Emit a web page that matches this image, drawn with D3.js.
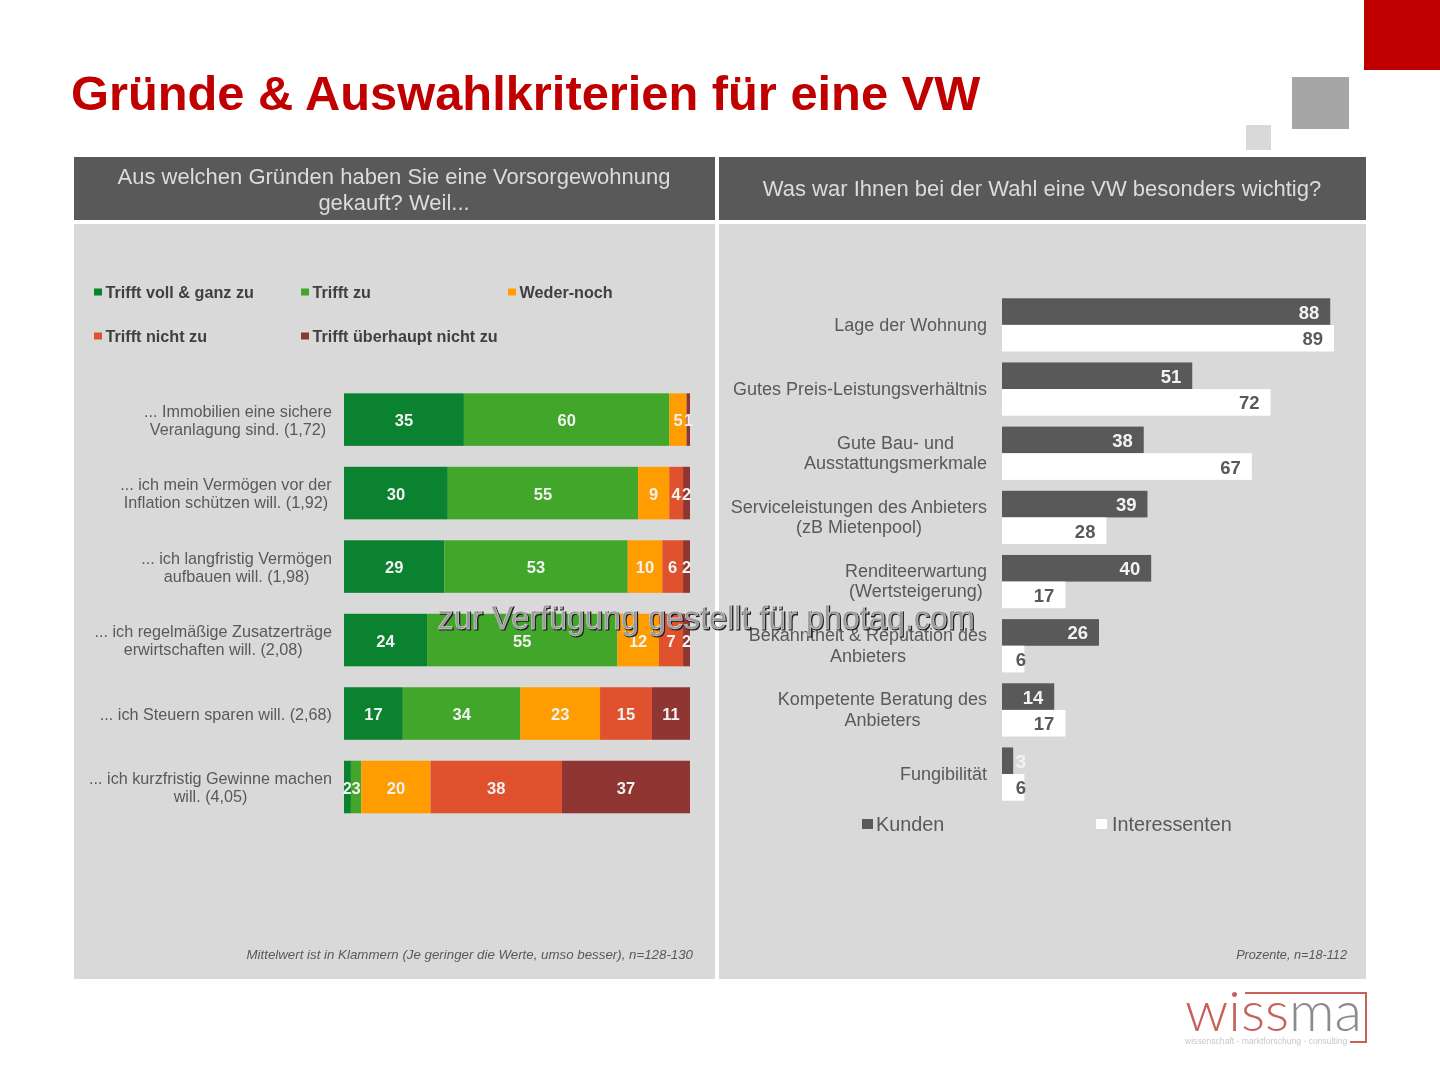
<!DOCTYPE html>
<html>
<head>
<meta charset="utf-8">
<script src="https://d3js.org/d3.v7.min.js"></script>
<style>
  html, body { margin: 0; padding: 0; background: #fff; }
  svg { display: block; filter: blur(0.5px); }
  text { font-family: "Liberation Sans", Arial, sans-serif; }
</style>
</head>
<body>
<svg></svg>
<script>
// left chart data
const leftCategories = [
  ['... Immobilien eine sichere', 'Veranlagung sind. (1,72)'],
  ['... ich mein Vermögen vor der', 'Inflation schützen will. (1,92)'],
  ['... ich langfristig Vermögen', 'aufbauen will. (1,98)'],
  ['... ich regelmäßige Zusatzerträge', 'erwirtschaften will. (2,08)'],
  ['... ich Steuern sparen will. (2,68)'],
  ['... ich kurzfristig Gewinne machen', 'will. (4,05)']
]
const leftSeries = ['Trifft voll & ganz zu', 'Trifft zu', 'Weder-noch', 'Trifft nicht zu', 'Trifft überhaupt nicht zu']
const leftColors = ['#0b8230', '#41a62a', '#ff9c00', '#e0522e', '#8f3532']
const voll = [35, 30, 29, 24, 17, 2]
const trifft = [60, 55, 53, 55, 34, 3]
const weder = [5, 9, 10, 12, 23, 20]
const nicht = [0, 4, 6, 7, 15, 38]
const ueberhaupt = [1, 2, 2, 2, 11, 37]

// right chart data
const rightCategories = [
  ['Lage der Wohnung'],
  ['Gutes Preis-Leistungsverhältnis'],
  ['Gute Bau- und', 'Ausstattungsmerkmale'],
  ['Serviceleistungen des Anbieters', '(zB Mietenpool)'],
  ['Renditeerwartung', '(Wertsteigerung)'],
  ['Bekanntheit & Reputation des', 'Anbieters'],
  ['Kompetente Beratung des', 'Anbieters'],
  ['Fungibilität']
]
const kunden = [88, 51, 38, 39, 40, 26, 14, 3]
const interessenten = [89, 72, 67, 28, 17, 6, 17, 6]

let width = 1440
let height = 1080

let svg = d3.select('svg').attr('width', width).attr('height', height)

// slide background pieces
let drawSlide = () => {
  let boxes = [
    [1364, 0, 76, 70, '#c00000'],
    [1292, 77, 57, 52, '#a6a6a6'],
    [1246, 125, 25, 25, '#d9d9d9'],
    [74, 157, 641, 63, '#595959'],
    [719, 157, 647, 63, '#595959'],
    [74, 224, 641, 755, '#d9d9d9'],
    [719, 224, 647, 755, '#d9d9d9']
  ]
  svg.selectAll('rect.box')
    .data(boxes)
    .enter()
    .append('rect')
    .attr('class', 'box')
    .attr('x', d => d[0])
    .attr('y', d => d[1])
    .attr('width', d => d[2])
    .attr('height', d => d[3])
    .attr('fill', d => d[4])

  svg.append('text')
    .attr('x', 71).attr('y', 110)
    .attr('font-size', 48.8).attr('font-weight', 'bold')
    .attr('fill', '#c00000')
    .text('Gründe & Auswahlkriterien für eine VW')

  let head = [
    [394, 184, 'Aus welchen Gründen haben Sie eine Vorsorgewohnung'],
    [394, 210, 'gekauft? Weil...'],
    [1042, 196, 'Was war Ihnen bei der Wahl eine VW besonders wichtig?']
  ]
  svg.selectAll('text.head')
    .data(head)
    .enter()
    .append('text')
    .attr('class', 'head')
    .attr('x', d => d[0])
    .attr('y', d => d[1])
    .attr('text-anchor', 'middle')
    .attr('font-size', 22)
    .attr('fill', '#dcdcdc')
    .text(d => d[2])

  svg.append('text')
    .attr('x', 693).attr('y', 959)
    .attr('text-anchor', 'end')
    .attr('font-size', 13.3).attr('font-style', 'italic')
    .attr('fill', '#595959')
    .text('Mittelwert ist in Klammern (Je geringer die Werte, umso besser), n=128-130')
  svg.append('text')
    .attr('x', 1347).attr('y', 959)
    .attr('text-anchor', 'end')
    .attr('font-size', 12.7).attr('font-style', 'italic')
    .attr('fill', '#595959')
    .text('Prozente, n=18-112')
}

// multi line category labels, centred on their widest line like the slide does
let drawLabels = (g, cats, yPos, rightX, size, lineH) => {
  cats.forEach((lines, i) => {
    let t = g.append('text')
      .attr('font-size', size)
      .attr('fill', '#595959')
      .attr('text-anchor', 'middle')
    lines.forEach((l, j) => {
      t.append('tspan')
        .attr('x', 0)
        .attr('y', yPos(i) + (j - (lines.length - 1) / 2) * lineH + size * 0.35)
        .text(l)
    })
    let w = t.node().getBBox().width
    t.attr('transform', 'translate(' + (rightX - w / 2) + ',0)')
  })
}

let drawLeft = () => {
  let rows = leftCategories.map((c, i) => ({
    cat: i,
    s0: voll[i], s1: trifft[i], s2: weder[i], s3: nicht[i], s4: ueberhaupt[i]
  }))
  let keys = ['s0', 's1', 's2', 's3', 's4']
  let stack = d3.stack().keys(keys).offset(d3.stackOffsetExpand)(rows)

  let xScale = d3.scaleLinear().domain([0, 1]).range([344, 690])
  let yScale = d3.scaleBand()
    .domain(d3.range(leftCategories.length))
    .range([382.3, 824.3])
    .paddingInner(0.285)
    .paddingOuter(0.15)

  let g = svg.append('g')
  let groups = g.selectAll('g.layer')
    .data(stack)
    .enter()
    .append('g')
    .attr('class', 'layer')

  groups.selectAll('rect')
    .data((d, i) => d.map(p => ({ p: p, k: i })))
    .enter()
    .append('rect')
    .attr('x', d => xScale(d.p[0]))
    .attr('y', d => yScale(d.p.data.cat))
    .attr('width', d => xScale(d.p[1]) - xScale(d.p[0]))
    .attr('height', yScale.bandwidth())
    .attr('fill', d => leftColors[d.k])

  // bar values, the 1 in the first row is only hinted in the reference
  groups.selectAll('text')
    .data((d, i) => d.map(p => ({ p: p, v: p.data[keys[i]] })).filter(d => d.v > 0))
    .enter()
    .append('text')
    .attr('x', d => (xScale(d.p[0]) + xScale(d.p[1])) / 2)
    .attr('y', d => yScale(d.p.data.cat) + yScale.bandwidth() / 2 + 6.5)
    .attr('text-anchor', 'middle')
    .attr('font-size', 16.5)
    .attr('font-weight', 'bold')
    .attr('fill', '#f2f2f2')
    .text(d => d.v)

  drawLabels(g, leftCategories, i => yScale(i) + yScale.bandwidth() / 2 + 0.5, 332, 16.2, 18)

  // legend, three per row
  let legend = svg.append('g')
  leftSeries.forEach((s, i) => {
    let lx = 94 + (i % 3) * 207
    let ly = 292 + Math.floor(i / 3) * 44
    legend.append('rect')
      .attr('x', lx).attr('y', ly - 3.5)
      .attr('width', 8).attr('height', 7)
      .attr('fill', leftColors[i])
    legend.append('text')
      .attr('x', lx + 11.5).attr('y', ly + 5.5)
      .attr('font-size', 16.2).attr('font-weight', 'bold')
      .attr('fill', '#404040')
      .text(s)
  })
}

let drawRight = () => {
  let xScale = d3.scaleLinear().domain([0, 100]).range([1002, 1375])
  let yScale = d3.scaleBand()
    .domain(d3.range(rightCategories.length))
    .range([292.5, 806.5])
    .paddingInner(0.17)
    .paddingOuter(0.09)
  let inner = d3.scaleBand().domain([0, 1]).range([0, yScale.bandwidth()])

  let g = svg.append('g')
  let series = [kunden, interessenten]
  let colors = ['#595959', '#ffffff']
  let labelColors = ['#f2f2f2', '#595959']

  series.forEach((vals, s) => {
    g.selectAll('rect.s' + s)
      .data(vals)
      .enter()
      .append('rect')
      .attr('class', 's' + s)
      .attr('x', xScale(0))
      .attr('y', (d, i) => yScale(i) + inner(s))
      .attr('width', d => xScale(d) - xScale(0))
      .attr('height', inner.bandwidth())
      .attr('fill', colors[s])
    // small values sit at a fixed minimum position
    g.selectAll('text.s' + s)
      .data(vals)
      .enter()
      .append('text')
      .attr('class', 's' + s)
      .attr('x', d => Math.max(xScale(d) - 11, 1026))
      .attr('y', (d, i) => yScale(i) + inner(s) + inner.bandwidth() / 2 + 7)
      .attr('text-anchor', 'end')
      .attr('font-size', 18.5)
      .attr('font-weight', 'bold')
      .attr('fill', labelColors[s])
      .text(d => d)
  })

  drawLabels(g, rightCategories, i => yScale(i) + yScale.bandwidth() / 2 - 0.7, 987, 18, 20.5)

  // legend
  svg.append('rect').attr('x', 862).attr('y', 819).attr('width', 11).attr('height', 10).attr('fill', '#595959')
  svg.append('text').attr('x', 876).attr('y', 831).attr('font-size', 19.8).attr('fill', '#595959').text('Kunden')
  svg.append('rect').attr('x', 1096).attr('y', 819).attr('width', 11).attr('height', 10).attr('fill', '#ffffff')
  svg.append('text').attr('x', 1112).attr('y', 831).attr('font-size', 19.8).attr('fill', '#595959').text('Interessenten')
}

let drawLogo = () => {
  svg.append('path')
    .attr('d', 'M1245 993H1366V1042H1350')
    .attr('fill', 'none')
    .attr('stroke', '#c8605c')
    .attr('stroke-width', 2)
  let t = svg.append('text')
    .attr('x', 1185).attr('y', 1031)
    .attr('font-size', 56)
    .style('font-family', 'Lato, sans-serif')
    .attr('font-weight', 300)
    .attr('textLength', 177)
    .attr('lengthAdjust', 'spacingAndGlyphs')
  t.append('tspan').attr('fill', '#c8605c').text('wiss')
  t.append('tspan').attr('fill', '#8c8c8c').text('ma')
  svg.append('text')
    .attr('x', 1185).attr('y', 1044)
    .attr('font-size', 8.6)
    .attr('fill', '#c8c8c8')
    .text('wissenschaft - marktforschung - consulting')
}

let drawWatermark = () => {
  let wm = 'zur Verfügung gestellt für photaq.com'
  svg.append('text')
    .attr('x', 707).attr('y', 630)
    .attr('text-anchor', 'middle').attr('font-size', 32.3)
    .attr('fill', '#222').attr('stroke', '#222').attr('stroke-width', 1.2)
    .text(wm)
  svg.append('text')
    .attr('x', 706).attr('y', 629)
    .attr('text-anchor', 'middle').attr('font-size', 32.3)
    .attr('fill', '#999').attr('stroke', '#eee').attr('stroke-width', 0.4)
    .text(wm)
}

drawSlide()
drawLeft()
drawRight()
drawLogo()
drawWatermark()
</script>
</body>
</html>
